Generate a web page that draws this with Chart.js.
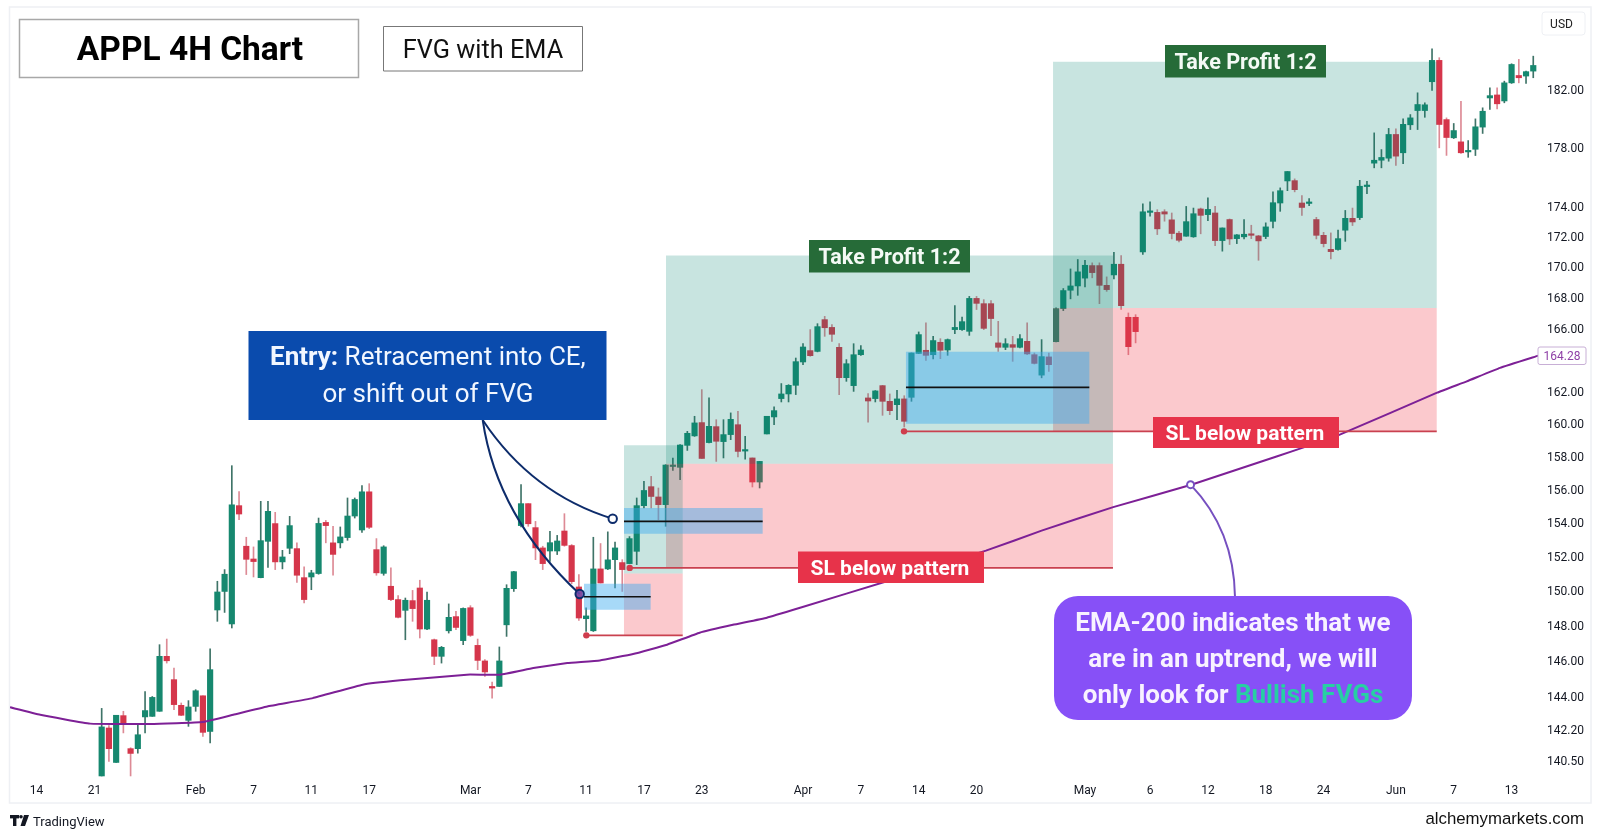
<!DOCTYPE html>
<html>
<head>
<meta charset="utf-8">
<title>APPL 4H Chart</title>
<script src="https://cdn.jsdelivr.net/npm/chart.js@4/dist/chart.umd.min.js"></script>
<style>html,body{margin:0;padding:0;background:#fff}canvas{display:block}</style>
</head>
<body>
<canvas id="c" width="1600" height="839"></canvas>
<script>
const opens = [139.68,142.29,140.41,142.97,141.16,141.16,142.90,142.93,143.21,146.28,
144.97,143.54,142.71,143.48,144.07,142.10,148.92,149.99,148.12,155.04,
152.63,151.88,150.79,152.92,153.97,151.71,152.51,152.49,150.79,150.83,
151.03,154.04,152.83,152.83,153.14,154.42,153.59,155.87,152.43,151.04,
150.29,149.52,148.90,149.46,150.19,147.83,147.22,146.28,147.73,148.54,
147.17,149.05,146.90,146.02,144.59,144.59,148.07,150.15,153.85,155.16,
153.73,152.53,152.35,152.35,153.53,152.67,150.25,148.42,147.73,151.30,
151.30,151.84,151.67,151.61,152.33,155.04,156.18,155.56,155.10,157.40,
157.35,158.69,159.27,160.09,158.86,159.84,158.92,159.35,159.96,158.34,
157.92,156.46,159.39,160.44,161.58,161.87,162.41,163.88,164.60,164.55,
166.58,166.08,164.81,162.89,162.39,164.34,161.62,161.58,162.39,161.41,
161.20,161.56,161.66,164.42,164.62,164.34,165.13,164.64,165.94,165.94,
165.83,167.95,167.61,167.61,165.09,164.81,164.98,164.81,165.19,164.34,
163.05,164.20,165.17,167.29,168.48,168.76,169.27,170.09,170.09,168.80,
169.48,170.18,166.73,166.73,170.99,173.62,173.62,173.66,173.12,172.23,
172.03,171.99,173.85,173.47,173.58,171.74,173.14,171.87,171.99,172.16,
172.05,172.01,173.02,174.25,175.74,175.76,174.25,174.22,173.14,172.09,
171.16,171.15,172.43,173.22,173.27,175.36,176.95,177.15,177.29,178.92,
177.66,179.59,180.58,180.58,182.60,184.11,179.95,178.69,178.41,177.72,
177.90,179.43,181.46,181.67,181.25,182.52,183.04,183.00,183.35];
const closes = [142.35,141.16,142.99,142.57,140.90,141.92,143.25,143.98,146.28,146.03,
143.58,142.99,143.45,144.35,142.05,145.53,149.96,150.99,155.09,154.54,
151.86,151.73,152.96,154.70,151.71,152.00,153.85,150.93,149.52,151.07,
153.98,153.85,152.15,153.18,154.42,155.41,155.87,153.75,151.07,152.59,
149.52,148.50,149.48,149.00,147.83,149.48,146.28,146.79,148.50,147.92,
149.01,147.47,146.05,145.40,144.50,146.02,150.17,151.14,155.16,153.96,
152.53,151.61,152.84,152.94,152.68,150.56,148.46,148.58,151.30,150.48,
151.83,152.53,151.26,153.08,155.04,155.95,155.59,155.10,157.49,157.47,
158.71,159.43,160.07,157.89,159.86,158.94,159.35,160.29,158.32,158.42,
156.46,157.71,160.48,160.83,161.87,162.41,163.90,164.83,164.28,166.13,
166.06,165.64,162.89,163.77,164.34,164.64,161.43,162.06,161.41,160.83,
161.56,160.17,164.45,165.62,164.30,165.24,164.62,165.30,166.08,166.45,
167.95,167.63,166.02,166.65,164.81,165.04,164.81,165.36,164.39,163.79,
164.22,163.71,167.29,168.46,168.76,169.68,170.11,169.63,168.80,168.52,
170.18,167.48,164.85,165.81,173.66,173.66,172.52,173.51,172.21,171.76,
173.00,173.53,173.42,173.82,171.74,172.58,171.85,172.12,172.16,172.09,
171.72,172.65,174.27,175.08,176.38,175.15,173.95,174.29,172.09,171.54,
171.01,171.87,173.22,172.98,175.38,175.42,177.15,177.34,178.92,177.43,
179.62,180.07,181.00,180.98,184.11,179.61,178.71,179.19,177.66,177.81,
179.45,180.53,181.62,181.05,182.52,183.82,182.88,183.31,183.75];
const highs = [143.37,142.42,142.99,143.21,141.21,142.47,144.31,144.03,146.94,147.26,
145.62,143.67,143.80,144.41,144.07,146.70,150.58,151.26,157.45,155.89,
153.16,152.59,155.30,155.30,154.64,152.39,154.40,152.83,151.42,151.22,
154.30,154.16,153.81,153.77,155.50,155.50,156.25,156.36,153.08,152.66,
151.36,149.75,149.61,150.05,150.64,149.96,147.26,146.84,149.27,148.84,
149.04,149.17,147.26,146.09,144.84,146.81,150.38,151.16,156.30,155.16,
154.10,152.63,153.51,153.27,154.56,152.73,150.97,149.04,153.16,152.79,
153.48,152.87,151.84,153.20,155.50,156.50,156.80,156.10,157.51,157.92,
158.73,159.55,160.48,162.14,161.62,160.27,160.27,160.69,160.79,159.24,
157.92,157.71,160.48,161.06,162.52,162.45,164.13,165.04,165.94,166.32,
166.79,166.26,165.04,164.03,165.04,164.92,161.89,162.08,162.41,161.87,
162.09,161.76,164.45,165.79,166.37,165.51,165.36,165.34,167.48,166.75,
168.08,168.08,167.87,167.81,166.47,165.36,165.51,165.62,166.37,164.45,
165.30,164.45,167.34,168.59,169.87,170.49,170.44,170.27,170.27,169.35,
170.97,170.75,167.01,166.90,174.20,174.32,173.80,173.80,173.58,172.36,
174.02,173.91,173.91,174.59,174.02,172.58,173.18,172.14,173.14,172.76,
172.09,172.92,175.00,175.27,176.38,175.88,174.75,174.54,173.29,172.29,
172.25,172.43,173.75,173.91,175.78,175.71,179.03,177.88,179.34,179.31,
180.00,180.30,181.82,181.12,184.94,184.30,180.07,179.68,181.23,178.50,
180.00,180.77,182.17,182.17,182.64,183.87,184.18,183.35,184.41];
const lows = [139.68,140.46,140.41,142.02,139.68,140.92,142.02,142.93,143.21,145.90,
143.30,142.97,142.38,143.21,141.83,141.47,148.27,148.78,147.89,154.20,
150.97,150.83,150.78,151.39,151.26,151.30,152.19,150.52,149.33,150.09,
150.99,152.83,150.93,152.53,152.98,154.30,153.45,153.67,150.93,150.93,
149.46,148.46,147.22,148.27,147.32,147.79,145.81,145.90,147.60,147.79,
146.94,147.41,145.53,145.15,143.94,144.59,147.41,149.99,153.77,153.81,
151.84,151.26,151.74,152.14,152.63,150.44,148.32,147.69,147.69,150.48,
151.26,150.19,149.99,151.61,151.55,154.90,154.90,154.20,153.81,157.16,
156.60,158.38,159.24,157.89,158.84,157.71,157.92,159.04,157.98,157.85,
156.16,156.10,159.39,159.96,161.37,161.37,161.83,163.71,164.24,164.52,
165.51,165.19,161.83,162.66,162.03,164.30,160.11,161.37,160.54,160.58,
160.27,159.82,161.41,164.41,163.98,164.07,164.09,164.30,165.68,165.89,
165.57,167.23,165.94,165.55,164.55,164.66,163.92,164.77,164.34,163.75,
162.88,163.29,165.15,167.16,167.92,168.15,168.70,169.29,167.61,168.41,
169.22,167.23,164.34,165.09,170.82,173.36,172.14,173.03,171.85,171.66,
172.03,171.96,172.19,173.07,171.41,171.04,171.48,171.54,171.85,171.87,
170.44,171.87,172.58,173.69,175.08,175.00,173.42,174.07,171.85,171.32,
170.53,171.10,171.69,172.74,173.14,174.88,176.63,176.63,177.08,176.79,
176.92,179.26,179.26,180.11,181.98,178.00,177.48,178.64,177.61,177.35,
177.47,178.99,180.65,180.70,181.12,182.48,182.52,182.48,182.88];

// EMA-200 as (candle index, price)
const emaIndex = [-12.68,-8.5,-1.6,6.7,14,18.2,22.9,29.2,36.1,41.3,50.5,55.1,59.7,64.4,68.9,73.5,78.2,82.7,87.3,92,96.6,109.4,122.3,130,139.9,150.7,162.6,171,184.7,188.8,193.4,198.7];
const emaPrice = [143.43,143.02,142.53,142.51,142.62,143.02,143.48,143.94,144.69,144.93,145.25,145.25,145.62,145.90,146.05,146.41,146.94,147.62,148.07,148.48,149.05,150.68,152.37,153.55,154.95,156.30,158.02,159.30,161.95,162.66,163.51,164.28];

const priceTicks = [182,178,174,172,170,168,166,162,160,158,156,154,152,150,148,146,144,142.2,140.5];
const timeTickIndex = [-9,-1,13,21,29,37,51,59,67,75,83,97,105,113,121,136,145,153,161,169,179,187,195];
const timeTickLabels = ['14','21','Feb','7','11','17','Mar','7','11','17','23','Apr','7','14','20','May','6','12','18','24','Jun','7','13'];

const GREEN='#16886f', RED='#d5364b', GREEN_WICK='#3f7468', RED_WICK='#dd8a95';

// Position-tool zones: [index from, index to, price top, price bottom]
const greenZones = [[72.24,80.36,158.69,151.03],[78.05,139.87,170.75,157.57],[131.58,184.65,184.02,167.33]];
const redZones = [[72.24,80.36,151.03,147.47],[78.05,139.87,157.57,151.36],[131.58,184.65,167.33,159.55]];
// FVG boxes: [index from, index to, price top, price bottom, price mid]
const fvgBoxes = [[66.71,75.93,150.43,148.94,149.68],[72.24,91.42,154.9,153.37,154.10],[111.24,136.6,164.53,160.02,162.28]];
// Stop lines: [index from, index to, price]
const stopLines = [[67.03,80.36,147.47],[73.03,139.87,151.36],[110.97,184.65,159.55]];
// Callout anchors: [index, price]
const entryAnchorA = [70.68,154.26], entryAnchorB = [66.11,149.84], emaAnchor = [150.6,156.30];

const candleX = opens.map((_,i)=>i);

function box(ctx,x0,y0,x1,y1,fill,stroke,lw){
  ctx.beginPath();ctx.rect(x0,y0,x1-x0,y1-y0);
  if(fill){ctx.fillStyle=fill;ctx.fill();}
  if(stroke){ctx.strokeStyle=stroke;ctx.lineWidth=lw||1;ctx.stroke();}
}
function label(ctx,t,x,y,font,color,align){
  ctx.font=font;ctx.fillStyle=color;ctx.textAlign=align||'center';ctx.textBaseline='alphabetic';ctx.fillText(t,x,y);
}
const overlay = {
  id:'overlay',
  beforeDraw(chart){
    const c=chart.ctx;c.save();
    c.fillStyle='#fff';c.fillRect(0,0,1600,839);
    c.strokeStyle='#eef0f4';c.lineWidth=1.5;c.strokeRect(9.5,7,1581.5,796);
    c.restore();
  },
  afterDatasetDraw(chart,args){
    if(args.index!==1) return;
    const c=chart.ctx,X=chart.scales.x,Y=chart.scales.y;
    c.save();
    redZones.forEach(z=>box(c,X.getPixelForValue(z[0]),Y.getPixelForValue(z[2]),X.getPixelForValue(z[1]),Y.getPixelForValue(z[3]),'rgba(242,54,69,0.27)'));
    greenZones.forEach(z=>box(c,X.getPixelForValue(z[0]),Y.getPixelForValue(z[2]),X.getPixelForValue(z[1]),Y.getPixelForValue(z[3]),'rgba(0,130,110,0.215)'));
    fvgBoxes.forEach(b=>box(c,X.getPixelForValue(b[0]),Y.getPixelForValue(b[2]),X.getPixelForValue(b[1]),Y.getPixelForValue(b[3]),'rgba(60,170,240,0.45)'));
    c.restore();
  },
  afterDatasetsDraw(chart){
    const c=chart.ctx,X=chart.scales.x,Y=chart.scales.y;
    const px=a=>X.getPixelForValue(a),py=a=>Y.getPixelForValue(a);
    c.save();
    // FVG midlines
    fvgBoxes.forEach(b=>{c.beginPath();c.moveTo(px(b[0]),py(b[4]));c.lineTo(px(b[1]),py(b[4]));c.strokeStyle='#111';c.lineWidth=1.6;c.stroke();});
    // stop lines
    stopLines.forEach(l=>{
      c.beginPath();c.moveTo(px(l[0]),py(l[2]));c.lineTo(px(l[1]),py(l[2]));c.strokeStyle='#c9414f';c.lineWidth=1.6;c.stroke();
      c.beginPath();c.arc(px(l[0]),py(l[2]),3.2,0,7);c.fillStyle='#cf3d4d';c.fill();
    });
    // navy callout curves
    const ax=px(entryAnchorA[0]),ay=py(entryAnchorA[1]),bx=px(entryAnchorB[0]),by=py(entryAnchorB[1]);
    c.strokeStyle='#0d2c6b';c.lineWidth=2;
    c.beginPath();c.moveTo(482.7,420);c.quadraticCurveTo(532,494,ax,ay);c.stroke();
    c.beginPath();c.moveTo(482.7,420);c.quadraticCurveTo(497,517,bx,by);c.stroke();
    c.beginPath();c.arc(ax,ay,4.2,0,7);c.fillStyle='#fff';c.fill();c.stroke();
    c.beginPath();c.arc(bx,by,4.2,0,7);c.fillStyle='rgba(110,80,180,0.8)';c.fill();c.stroke();
    // purple callout curve
    const ex=px(emaAnchor[0]),ey=py(emaAnchor[1]);
    c.strokeStyle='#7650c0';c.lineWidth=2;
    c.beginPath();c.moveTo(ex,ey);c.quadraticCurveTo(1234,530,1235,597);c.stroke();
    c.beginPath();c.arc(ex,ey,3.5,0,7);c.fillStyle='#fff';c.fill();c.stroke();

    // title boxes
    box(c,19.5,19.5,358.5,77.5,'#fff','#a8a8a8',1.5);
    label(c,'APPL 4H Chart',190,60,'bold 33.5px Roboto','#000');
    box(c,383.5,26.5,582.5,71,'#fff','#777',1);
    label(c,'FVG with EMA',483,58,'400 25.3px Roboto','#111');

    // entry box
    box(c,248.5,331,606.5,420,'#0a4bad');
    label(c,'Entry:',270,365,'bold 26px Roboto','#f2f7ff','left');
    const entryW=c.measureText('Entry:').width;
    label(c,' Retracement into CE,',270+entryW,365,'400 26px Roboto','#f2f7ff','left');
    label(c,'or shift out of FVG',428,402,'400 26px Roboto','#f2f7ff');

    // take profit / stop labels
    [[809,240,970,272.5,889.5],[1165,45,1326,77.5,1245.5]].forEach(r=>{
      box(c,r[0],r[1],r[2],r[3],'#266b38');
      label(c,'Take Profit 1:2',r[4],r[3]-8.5,'bold 21.6px Roboto','#f4faf5');
    });
    [[798,551.5,984,583,890],[1153,417,1339,448,1245]].forEach(r=>{
      box(c,r[0],r[1],r[2],r[3],'#e7334a');
      label(c,'SL below pattern',r[4],r[3]-8.5,'bold 21px Roboto','#fff');
    });

    // purple note
    c.beginPath();c.roundRect(1054,596,358,124,24);c.fillStyle='#8750f7';c.fill();
    const noteFont='bold 26px Roboto';
    label(c,'EMA-200 indicates that we',1233,631,noteFont,'#f8f2ff');
    label(c,'are in an uptrend, we will',1233,667,noteFont,'#f8f2ff');
    c.font=noteFont;
    const a='only look for ',b='Bullish FVGs';
    const w1=c.measureText(a).width,w2=c.measureText(b).width,sx=1233-(w1+w2)/2;
    label(c,a,sx,703,noteFont,'#f8f2ff','left');
    label(c,b,sx+w1,703,noteFont,'#27cfa3','left');

    // USD chip and EMA price tag
    c.beginPath();c.roundRect(1542,12,43,23,3);c.strokeStyle='#eef0f4';c.lineWidth=1;c.fillStyle='#fff';c.fill();c.stroke();
    label(c,'USD',1561.5,28,'12px Roboto','#222');
    c.beginPath();c.roundRect(1538,347,48,17.5,2);c.fillStyle='#fff';c.fill();c.strokeStyle='#c8afd6';c.lineWidth=1;c.stroke();
    label(c,'164.28',1562,360,'12px Roboto','#8e3fa6');

    // footer
    c.fillStyle='#131722';
    c.fillRect(10,815,9,3.4);c.fillRect(13,815,3.4,11);
    c.beginPath();c.arc(21,816.8,1.8,0,7);c.fill();
    c.beginPath();c.moveTo(24,815);c.lineTo(29,815);c.lineTo(25,826);c.lineTo(20.5,826);c.closePath();c.fill();
    label(c,'TradingView',33,826,'13px Roboto','#131722','left');
    label(c,'alchemymarkets.com',1584,824,'16.8px "Liberation Sans"','#111','right');
    c.restore();
  }
};

new Chart(document.getElementById('c'),{
  type:'bar',
  plugins:[overlay],
  data:{datasets:[
    {type:'line',label:'EMA-200',order:0,
     data:emaIndex.map((x,i)=>({x,y:emaPrice[i]})),
     borderColor:'#7d2096',borderWidth:2,pointRadius:0,tension:0.1,fill:false},
    {label:'Body',order:1,
     data:candleX.map(i=>({x:i,y:[opens[i],closes[i]]})),
     backgroundColor:candleX.map(i=>closes[i]>=opens[i]?GREEN:RED),
     barThickness:5.5,minBarLength:1.5,borderWidth:0},
    {label:'Wick',order:2,
     data:candleX.map(i=>({x:i,y:[lows[i],highs[i]]})),
     backgroundColor:candleX.map(i=>closes[i]>=opens[i]?GREEN_WICK:RED_WICK),
     barThickness:1,borderWidth:0}
  ]},
  options:{
    responsive:false,animation:false,devicePixelRatio:1,
    layout:{padding:{left:10,right:9,top:8,bottom:36}},
    plugins:{legend:{display:false},tooltip:{enabled:false}},
    datasets:{bar:{grouped:false}},
    scales:{
      x:{type:'linear',offset:false,min:-12.68,max:199.07,
        grid:{display:false,drawTicks:false},border:{display:false},
        afterBuildTicks(s){s.ticks=timeTickIndex.map(value=>({value}));},
        afterFit(s){s.height=25;s.paddingLeft=0;s.paddingRight=0;},
        ticks:{autoSkip:false,maxRotation:0,padding:6,font:{family:'Roboto',size:12},color:'#131722',
          callback:v=>timeTickLabels[timeTickIndex.indexOf(v)]}},
      y:{type:'logarithmic',position:'right',min:139.57,max:187.87,
        grid:{display:false,drawTicks:false},border:{display:false},
        afterBuildTicks(s){s.ticks=priceTicks.map(value=>({value}));},
        afterFit(s){s.width=50;s.paddingTop=0;s.paddingBottom=0;},
        ticks:{autoSkip:false,padding:6,labelOffset:1,font:{family:'Roboto',size:12},color:'#131722',
          callback:v=>Number(v).toFixed(2)}}
    }
  }
});
</script>
</body>
</html>
